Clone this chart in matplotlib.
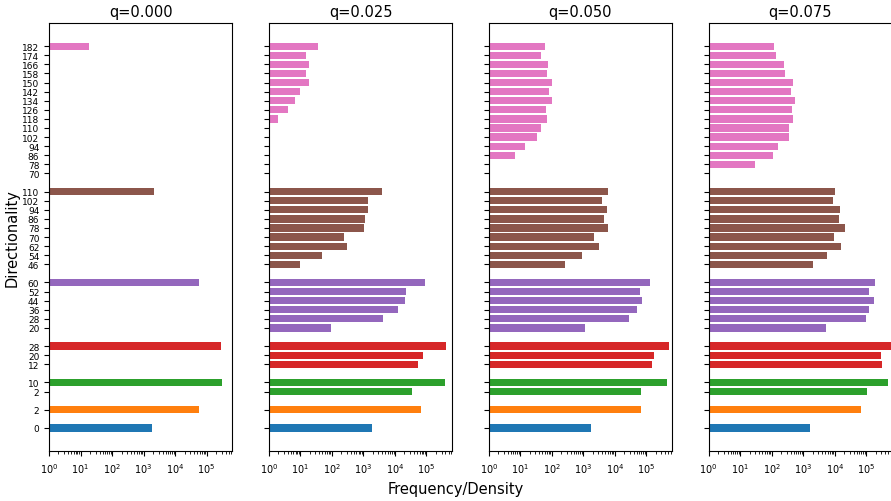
import numpy as np
import matplotlib
matplotlib.use("Agg")
import matplotlib.pyplot as plt
from matplotlib.ticker import LogLocator

# tick labels of each group, bottom to top
lab0 = [0]
lab1 = [2]
lab2 = [2, 10]
lab3 = [12, 20, 28]
lab4 = [20, 28, 36, 44, 52, 60]
lab5 = [46, 54, 62, 70, 78, 86, 94, 102, 110]
lab6 = [70, 78, 86, 94, 102, 110, 118, 126, 134, 142, 150, 158, 166, 174, 182]
group_labels = [lab0, lab1, lab2, lab3, lab4, lab5, lab6]

qs = ["q=0.000", "q=0.025", "q=0.050", "q=0.075"]

# values (0 = no bar)
q0_g0 = [1900]
q0_g1 = [59000]
q0_g2 = [0, 315000]
q0_g3 = [0, 0, 285000]
q0_g4 = [0, 0, 0, 0, 0, 56000]
q0_g5 = [0, 0, 0, 0, 0, 0, 0, 0, 2100]
q0_g6 = [0, 0, 0, 0, 0, 0, 0, 0, 0, 0, 0, 0, 0, 0, 18.5]

q1_g0 = [1900]
q1_g1 = [68000]
q1_g2 = [34500, 400000]
q1_g3 = [53000, 76000, 420000]
q1_g4 = [93, 4200, 12500, 21000, 23000, 90000]
q1_g5 = [9.8, 48, 295, 250, 1030, 1110, 1420, 1350, 3800]
q1_g6 = [0, 0, 0, 0, 0, 0, 1.9, 4, 6.8, 10, 19, 15.5, 19, 15, 35]

q2_g0 = [1780]
q2_g1 = [70000]
q2_g2 = [70000, 450000]
q2_g3 = [155000, 174000, 535000]
q2_g4 = [1100, 28000, 50000, 74000, 62000, 129000]
q2_g5 = [255, 890, 3100, 2200, 5900, 4600, 5500, 3900, 6200]
q2_g6 = [0, 0, 6.8, 14.5, 33, 47, 69, 65, 103, 83, 98, 69, 76, 47, 62]

q3_g0 = [1600]
q3_g1 = [68000]
q3_g2 = [105000, 500000]
q3_g3 = [315000, 297000, 700000]
q3_g4 = [5100, 96000, 123000, 170000, 120000, 183000]
q3_g5 = [2050, 5600, 15600, 9400, 21000, 13500, 14600, 8900, 10000]
q3_g6 = [0, 29, 108, 160, 350, 350, 470, 440, 550, 400, 460, 262, 250, 138, 120]

panels = [
    [q0_g0, q0_g1, q0_g2, q0_g3, q0_g4, q0_g5, q0_g6],
    [q1_g0, q1_g1, q1_g2, q1_g3, q1_g4, q1_g5, q1_g6],
    [q2_g0, q2_g1, q2_g2, q2_g3, q2_g4, q2_g5, q2_g6],
    [q3_g0, q3_g1, q3_g2, q3_g3, q3_g4, q3_g5, q3_g6],
]

colors = ["tab:blue", "tab:orange", "tab:green", "tab:red",
          "tab:purple", "tab:brown", "tab:pink"]

# y positions: groups stacked with one empty slot between them
positions = []
ticklabels = []
start = 0
for labs in group_labels:
    positions.append(np.arange(start, start + len(labs)))
    ticklabels += [str(v) for v in labs]
    start += len(labs) + 1
allpos = np.concatenate(positions)

fig, axes = plt.subplots(1, 4, figsize=(8.91, 5.02), dpi=100, sharey=True)
fig.subplots_adjust(left=0.055, right=1.001, top=0.952, bottom=0.0996, wspace=0.2)

for ax, title, groups in zip(axes, qs, panels):
    for pos, vals, c in zip(positions, groups, colors):
        vals = np.array(vals, dtype=float)
        keep = vals > 0
        ax.barh(pos[keep], vals[keep], height=0.8, color=c)
    ax.set_xscale("log")
    ax.xaxis.set_major_locator(LogLocator(base=10, numticks=12))
    ax.set_xlim(1, 6.5e5)
    ax.set_title(title, fontsize=10.5, pad=5)
    ax.tick_params(axis="x", labelsize=7)
    ax.tick_params(axis="y", labelsize=6.5)

axes[0].set_yticks(allpos)
axes[0].set_yticklabels(ticklabels)
axes[0].set_ylim(-2.54, allpos.max() + 2.54)
axes[0].set_ylabel("Directionality", fontsize=10.5)
axes[0].yaxis.set_label_coords(-0.158, 0.5)
fig.supxlabel("Frequency/Density", fontsize=10.5, x=0.512, y=0.024, va="center")

fig.savefig("out.png", dpi=100)
